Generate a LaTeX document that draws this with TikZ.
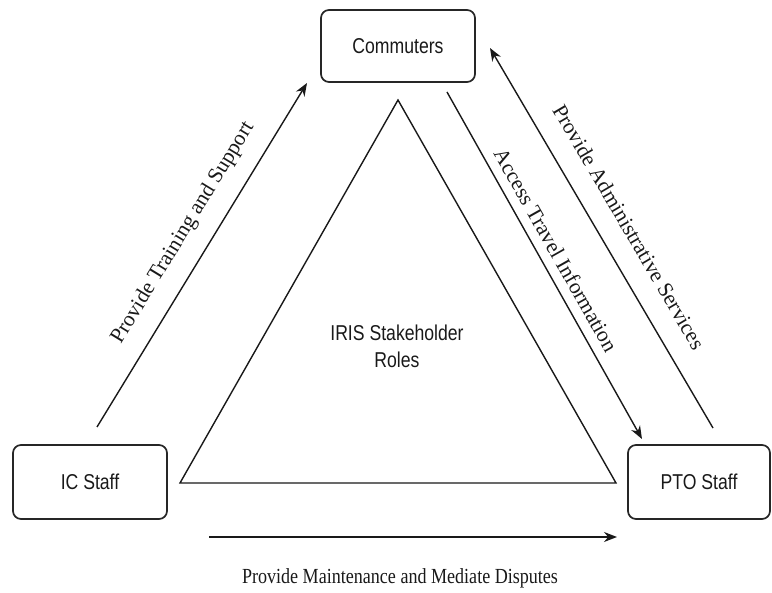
\documentclass[tikz,border=0pt]{standalone}
\usepackage{fontspec}
\setmainfont{Liberation Serif}
\newfontfamily\boxfont{Liberation Sans}
\usetikzlibrary{arrows.meta}
\begin{document}
\begin{tikzpicture}[x=1pt,y=-1pt,
  rolebox/.style={draw=black!85,line width=1.7pt,rounded corners=8pt,inner sep=0pt},
  boxtext/.style={font=\boxfont\fontsize{21.5}{25}\selectfont,text=black!90,xscale=0.82},
  flow/.style={draw=black!90,line width=1.4pt,-{Stealth[length=13pt,width=10pt]}},
  flowlabel/.style={font=\fontsize{21.5}{25}\selectfont,text=black!90,inner sep=0pt},
  ]
\useasboundingbox (0,0) rectangle (772,593);
% boxes
\draw[rolebox] (321,10) rectangle (475,82);
\draw[rolebox] (13,445) rectangle (167,519);
\draw[rolebox] (628,445) rectangle (770,519);
\node[boxtext] (comm) at (398,46) {Commuters};
\node[boxtext] (ic) at (90,482) {IC Staff};
\node[boxtext] (pto) at (699,482) {PTO Staff};
% triangle
\coordinate (tA) at (398,100);
\coordinate (tB) at (180,483);
\coordinate (tC) at (616,483);
\draw[draw=black!90,line width=1.4pt,line join=miter] (tA) -- (tB) -- (tC) -- cycle;
\node[boxtext,align=center,font=\boxfont\fontsize{21.5}{27}\selectfont] (iris) at (397,346) {IRIS Stakeholder\\Roles};
% arrow endpoints
\coordinate (icOut) at (97,427);
\coordinate (commIn) at (307,83);
\coordinate (commOut) at (447,92);
\coordinate (ptoIn) at (642,439);
\coordinate (ptoOut) at (713,428);
\coordinate (commIn2) at (490,48);
\coordinate (icOut2) at (209,537);
\coordinate (ptoIn2) at (617,537);
\draw[flow] (icOut) -- (commIn);
\draw[flow] (commOut) -- (ptoIn);
\draw[flow] (ptoOut) -- (commIn2);
\draw[flow] (icOut2) -- (ptoIn2);
% labels
\node[flowlabel,rotate=58.6] (l1) at (183,233) {Provide Training and Support};
\node[flowlabel,rotate=-60.6] (l2) at (556,250) {Access Travel Information};
\node[flowlabel,rotate=-59.6] (l3) at (629,227) {Provide Administrative Services};
\node[flowlabel,xscale=0.84] (l4) at (400,578) {Provide Maintenance and Mediate Disputes};
\end{tikzpicture}
\end{document}
